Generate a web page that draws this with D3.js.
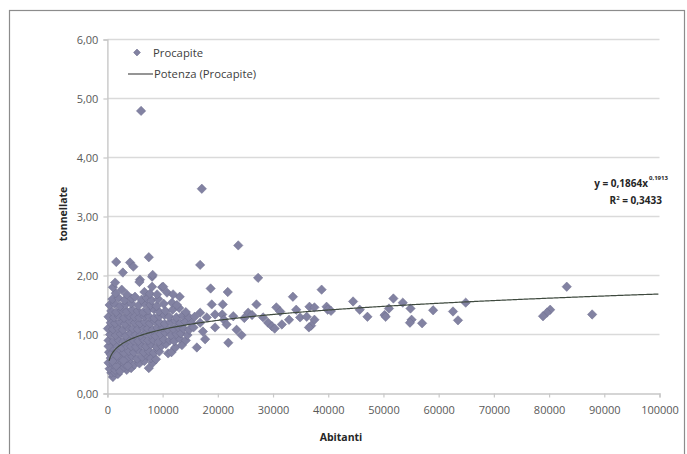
<!DOCTYPE html>
<html>
<head>
<meta charset="utf-8">
<script src="https://cdn.jsdelivr.net/npm/d3@7"></script>
<style>
  html, body { margin: 0; padding: 0; background: #ffffff; }
  svg { display: block; }
  text { font-family: "Open Sans", "Liberation Sans", sans-serif; }
</style>
</head>
<body>
<svg id="chart" width="687" height="454"></svg>
<script>
// ---- data (Abitanti, Procapite tonnellate) ----
const clusterPoints = [
  [1000,0.28],[700,0.35],[1900,0.33],[1300,0.36],
  [400,0.42],[1400,0.40],[2600,0.44],[3500,0.40],[4300,0.43],[7500,0.43],[2300,0.38],[3000,0.45],
  [200,0.52],[1100,0.49],[2100,0.52],[3100,0.50],[4000,0.53],[4900,0.49],[5800,0.51],[6700,0.55],[8200,0.52],[1600,0.47],[3700,0.47],
  [600,0.60],[1600,0.58],[2500,0.62],[3600,0.60],[4500,0.63],[5400,0.59],[6300,0.62],[7200,0.64],[7900,0.60],[8800,0.58],[900,0.55],[2900,0.56],
  [300,0.70],[1200,0.68],[2100,0.71],[3000,0.69],[3900,0.72],[4800,0.70],[5700,0.73],[6600,0.70],[7500,0.72],[8400,0.69],[9400,0.71],[11000,0.68],[11600,0.70],[600,0.66],[1700,0.64],
  [700,0.79],[1700,0.81],[2600,0.78],[3400,0.82],[4300,0.80],[5200,0.79],[6100,0.82],[7000,0.80],[7900,0.83],[8900,0.79],[9800,0.81],[10600,0.84],[12300,0.78],[13500,0.82],[200,0.80],
  [200,0.90],[1100,0.89],[2000,0.91],[2900,0.88],[3800,0.92],[4700,0.90],[5600,0.89],[6500,0.92],[7400,0.90],[8300,0.91],[9300,0.88],[10200,0.92],[11300,0.90],[12100,0.89],[13100,0.93],[14200,0.90],
  [500,1.00],[1500,0.99],[2400,1.01],[3300,0.98],[4200,1.02],[5100,1.00],[6000,0.99],[6900,1.02],[7800,1.00],[8700,0.98],[9600,1.01],[10500,1.03],[11500,0.99],[12500,1.01],[13300,1.02],[14500,0.99],
  [100,1.10],[1000,1.09],[1900,1.11],[2800,1.08],[3700,1.12],[4600,1.10],[5500,1.09],[6400,1.12],[7300,1.10],[8200,1.08],[9100,1.11],[10000,1.12],[10900,1.09],[11900,1.10],[12800,1.13],[13800,1.10],[14800,1.08],
  [600,1.20],[1400,1.19],[2300,1.21],[3200,1.18],[4100,1.22],[5000,1.20],[5900,1.19],[6800,1.21],[7700,1.19],[8600,1.22],[9500,1.20],[10400,1.18],[11400,1.21],[12300,1.23],[13200,1.19],[14100,1.22],[15200,1.20],
  [200,1.30],[1200,1.29],[2100,1.31],[3000,1.28],[3900,1.32],[4900,1.30],[5800,1.29],[6700,1.31],[7600,1.30],[8500,1.28],[9400,1.31],[10300,1.33],[11200,1.30],[12500,1.29],[13600,1.32],[14700,1.30],
  [700,1.40],[1600,1.38],[2600,1.41],[3500,1.39],[4500,1.42],[5500,1.40],[6500,1.38],[7400,1.41],[8400,1.43],[9300,1.39],[10500,1.40],[11800,1.42],[13000,1.45],[14200,1.38],
  [400,1.50],[1300,1.52],[2300,1.48],[3300,1.51],[4300,1.53],[5600,1.49],[6800,1.52],[7800,1.50],[8900,1.48],[10200,1.52],[11700,1.54],[12600,1.50],
  [900,1.60],[2000,1.62],[3100,1.58],[4400,1.61],[5000,1.64],[6200,1.59],[7100,1.62],[8000,1.58],[9200,1.60],[13100,1.64],
  [1500,1.70],[2600,1.76],[3500,1.68],[6700,1.72],[7700,1.69],[9000,1.68],[10800,1.71],[11900,1.68],
  [1000,1.80],[1400,1.88],[8100,1.81],[9900,1.80],[10100,1.81],[5900,1.93],[8100,1.98],[2800,2.05],[8200,2.01],
  [1600,2.23],[4100,2.22],[4700,2.15],[7500,2.31],[5800,1.89],[6100,4.79]
];
const sparsePoints = [
  [17100,3.47],[23700,2.51],[16800,2.18],[27300,1.96],[18700,1.78],[21800,1.72],[38800,1.76],[83200,1.81],
  [33600,1.64],[44500,1.56],[51800,1.61],[53500,1.54],[64900,1.54],[27000,1.51],[18900,1.51],[20900,1.51],
  [45700,1.42],[51000,1.44],[54900,1.44],[39700,1.47],[39900,1.42],[36600,1.47],[37500,1.46],[30600,1.46],
  [31300,1.39],[34200,1.42],[59000,1.41],[62600,1.39],[80200,1.42],[79600,1.37],[78900,1.31],[87800,1.34],
  [47100,1.30],[50200,1.33],[50400,1.30],[55100,1.25],[54800,1.20],[57000,1.19],[63500,1.24],
  [16800,1.37],[19500,1.34],[18000,1.29],[20800,1.34],[22800,1.31],[25500,1.37],[28200,1.29],[29100,1.20],
  [29800,1.14],[30300,1.10],[31600,1.17],[32900,1.25],[34900,1.29],[36100,1.30],[37500,1.25],[36900,1.15],
  [36500,1.12],[21100,1.25],[21600,1.17],[19500,1.12],[23400,1.08],[24300,0.99],[21900,0.86],[17300,1.05],
  [17700,0.92],[16800,1.20],[16200,0.78],[15800,1.30],[15600,1.12],[24800,1.28],[26200,1.33],[40500,1.40]
];
const trendCoef = 0.1864, trendExp = 0.1913, rSquared = "0,3433";
const xTicks = [0,10000,20000,30000,40000,50000,60000,70000,80000,90000,100000];
const yTicks = [0,1,2,3,4,5,6];
const seriesName = "Procapite", trendName = "Potenza (Procapite)";
const xTitle = "Abitanti", yTitle = "tonnellate";

// ---- drawing ----
const svg = d3.select("#chart");
const x = d3.scaleLinear().domain([0, 100000]).range([107.4, 659.5]);
const y = d3.scaleLinear().domain([0, 6]).range([393.5, 39.5]);
const fmt = d => d.toFixed(2).replace(".", ",");

// chart frame
svg.append("rect").attr("x", 9.5).attr("y", 10.5).attr("width", 675).attr("height", 460)
  .attr("fill", "#fff").attr("stroke", "#8c8c8c").attr("stroke-width", 1.2);

// gridlines
svg.append("g").selectAll("line").data(yTicks.filter(d => d > 0)).join("line")
  .attr("x1", x(0)).attr("x2", x(100000)).attr("y1", d => y(d)).attr("y2", d => y(d))
  .attr("stroke", "#dadada").attr("stroke-width", 1.6);

// axes
const xAxis = d3.axisBottom(x).tickValues(xTicks).tickFormat(d3.format("d")).tickSize(4).tickPadding(9);
const gx = svg.append("g").attr("transform", `translate(0,${y(0)})`).call(xAxis);
const yAxis = d3.axisLeft(y).tickValues(yTicks).tickFormat(fmt).tickSize(4).tickPadding(5);
const gy = svg.append("g").attr("transform", `translate(${x(0)},0)`).call(yAxis);
[gx, gy].forEach(g => {
  g.select(".domain").attr("stroke", "#c8c8c8").attr("stroke-width", 1.4);
  g.selectAll(".tick line").attr("stroke", "#c8c8c8").attr("stroke-width", 1.2);
  g.selectAll(".tick text").attr("fill", "#595959").style("font-size", "11px")
    .style("font-family", "'Open Sans', sans-serif");
});

// points
const diamond = "M0,-4.7L4.7,0L0,4.7L-4.7,0Z";
const allPoints = clusterPoints.concat(sparsePoints);
svg.append("g").selectAll("path").data(allPoints).join("path")
  .attr("d", diamond)
  .attr("transform", d => `translate(${x(d[0])},${y(d[1])})`)
  .attr("fill", "#8282a2").attr("stroke", "#6e6e8e").attr("stroke-width", 0.5);

// trend line
const trendXs = d3.range(300, 100001, 250);
const line = d3.line().x(d => x(d)).y(d => y(trendCoef * Math.pow(d, trendExp))).curve(d3.curveLinear);
svg.append("path").datum(trendXs).attr("d", line)
  .attr("fill", "none").attr("stroke", "#3f4a3f").attr("stroke-width", 1.2);

// legend
const lg = svg.append("g");
lg.append("path").attr("d", "M0,-3.4L3.4,0L0,3.4L-3.4,0Z").attr("transform", "translate(137,52.5)")
  .attr("fill", "#8282a2").attr("stroke", "#6a6a8c").attr("stroke-width", 0.6);
lg.append("text").attr("x", 153).attr("y", 56.5).attr("fill", "#404040").style("font-size", "11.3px").text(seriesName);
lg.append("line").attr("x1", 128).attr("x2", 153).attr("y1", 74).attr("y2", 74)
  .attr("stroke", "#3f3f3f").attr("stroke-width", 1.1);
lg.append("text").attr("x", 154).attr("y", 78).attr("fill", "#404040").style("font-size", "11.3px").text(trendName);

// equation
const eq = svg.append("text").attr("x", 648).attr("y", 186.5).attr("text-anchor", "end")
  .attr("fill", "#262626").style("font-size", "10px").style("font-weight", "bold");
eq.text("y = " + trendCoef.toString().replace(".", ",") + "x");
svg.append("text").attr("x", 649).attr("y", 180).attr("fill", "#262626")
  .style("font-size", "6px").style("font-weight", "bold").text(trendExp.toString().replace(".", ","));
const r2 = svg.append("text").attr("x", 662).attr("y", 204).attr("text-anchor", "end")
  .attr("fill", "#262626").style("font-size", "10px").style("font-weight", "bold");
r2.append("tspan").text("R");
r2.append("tspan").attr("dy", -4).style("font-size", "6px").text("2");
r2.append("tspan").attr("dy", 4).text(" = " + rSquared);

// axis titles
svg.append("text").attr("x", 341).attr("y", 441).attr("text-anchor", "middle")
  .attr("fill", "#262626").style("font-size", "10.5px").style("font-weight", "bold").text(xTitle);
svg.append("text").attr("transform", "translate(67,214) rotate(-90)").attr("text-anchor", "middle")
  .attr("fill", "#262626").style("font-size", "10.5px").style("font-weight", "bold").text(yTitle);
</script>
</body>
</html>
